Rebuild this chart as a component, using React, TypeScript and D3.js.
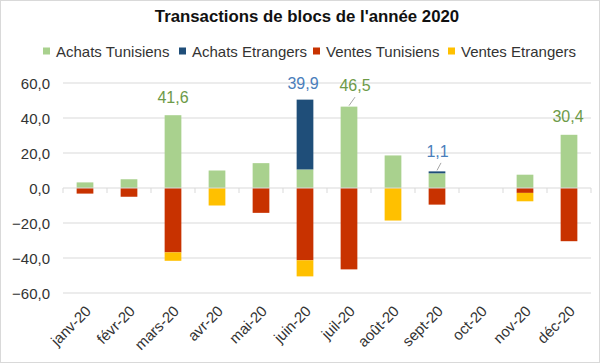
import { useEffect, useRef } from 'react'
import * as d3 from 'd3'

const months = ['janv-20', 'févr-20', 'mars-20', 'avr-20', 'mai-20', 'juin-20', 'juil-20', 'août-20', 'sept-20', 'oct-20', 'nov-20', 'déc-20']
const achatsTunisiens = [3.2, 5.0, 41.6, 10.0, 14.2, 10.6, 46.5, 18.6, 8.4, 0, 7.6, 30.4]
const achatsEtrangers = [0, 0, 0, 0, 0, 39.9, 0, 0, 1.1, 0, 0, 0]
const ventesTunisiens = [-3.2, -5.0, -36.8, 0, -14.2, -41.3, -46.5, 0, -9.5, 0, -2.8, -30.4]
const ventesEtrangers = [0, 0, -4.8, -10.0, 0, -9.2, 0, -18.6, 0, 0, -4.8, 0]
const yTicks = [-60, -40, -20, 0, 20, 40, 60]

const seriesNames = ['Achats Tunisiens', 'Achats Etrangers', 'Ventes Tunisiens', 'Ventes Etrangers']
const colors = ['#a9d18e', '#1f4e79', '#c83200', '#ffc000']

// étiquettes affichées : [série, mois, dx, dy, trait de rappel (décalage x de la fin) ou null]
const labels: Array<[number, number, number, number, number | null]> = [
  [0, 2, 0, -12, null],
  [1, 5, -2, -10.5, null],
  [0, 6, 6, -15.5, 6],
  [1, 8, 0.5, -14.5, 4],
  [0, 11, -1, -13, null],
]
const labelColors = ['#6d9a48', '#4a7ebb']

const W = 600
const H = 363
const font = 'Arial, "Liberation Sans", sans-serif'

export default function App() {
  const svgRef = useRef<SVGSVGElement | null>(null)

  useEffect(() => {
    if (!svgRef.current) return
    const svg = d3.select(svgRef.current)
    svg.selectAll('*').remove()

    const x = d3.scaleBand<string>().domain(months).range([63, 591]).paddingInner(0.62).paddingOuter(0.31)
    const y = d3.scaleLinear().domain([-60, 60]).range([293, 83])
    const step = x.step()

    svg.append('rect').attr('x', 0.5).attr('y', 0.5).attr('width', W - 1).attr('height', H - 1)
      .attr('fill', '#fff').attr('stroke', '#d9d9d9')

    svg.append('text').attr('x', 307).attr('y', 22).attr('text-anchor', 'middle')
      .attr('font-family', font).attr('font-size', 16.8).attr('font-weight', 'bold').attr('fill', '#111')
      .text("Transactions de blocs de l'année 2020")

    // légende
    const legendX = [43, 179, 313, 448]
    const lg = svg.append('g').attr('font-family', font).attr('font-size', 15).attr('fill', '#333')
    seriesNames.forEach((name, i) => {
      lg.append('rect').attr('x', legendX[i]).attr('y', 47.5).attr('width', 7).attr('height', 7).attr('fill', colors[i])
      lg.append('text').attr('x', legendX[i] + 13).attr('y', 57).text(name)
    })

    // grille
    svg.append('g').selectAll('line').data(yTicks.filter((t) => t !== 0)).join('line')
      .attr('x1', 63).attr('x2', 591).attr('y1', (d) => y(d)).attr('y2', (d) => y(d))
      .attr('stroke', '#d9d9d9').attr('stroke-width', 1)

    svg.append('g').selectAll('text').data(yTicks).join('text')
      .attr('x', 50).attr('y', (d) => y(d) + 5.5).attr('text-anchor', 'end')
      .attr('font-family', font).attr('font-size', 15).attr('fill', '#333')
      .text((d) => d3.format('.1f')(d).replace('.', ','))

    // barres empilées
    const pos = [achatsTunisiens, achatsEtrangers]
    const neg = [ventesTunisiens, ventesEtrangers]
    const bars = svg.append('g')
    months.forEach((m, i) => {
      let top = 0
      pos.forEach((s, k) => {
        if (s[i] <= 0) return
        bars.append('rect').attr('x', x(m)!).attr('width', x.bandwidth())
          .attr('y', y(top + s[i])).attr('height', y(top) - y(top + s[i])).attr('fill', colors[k])
        top += s[i]
      })
      let bot = 0
      neg.forEach((s, k) => {
        if (s[i] >= 0) return
        bars.append('rect').attr('x', x(m)!).attr('width', x.bandwidth())
          .attr('y', y(bot)).attr('height', y(bot + s[i]) - y(bot)).attr('fill', colors[k + 2])
        bot += s[i]
      })
    })

    // axe du zéro et graduations
    const ax = svg.append('g').attr('stroke', '#d9d9d9')
    ax.append('line').attr('x1', 63).attr('x2', 591).attr('y1', y(0)).attr('y2', y(0)).attr('stroke-width', 1.2)
    ax.selectAll('.tick').data(d3.range(months.length + 1)).join('line')
      .attr('x1', (d) => 63 + d * step).attr('x2', (d) => 63 + d * step)
      .attr('y1', y(0)).attr('y2', y(0) + 5)

    // étiquettes de mois
    svg.append('g').selectAll('text').data(months).join('text')
      .attr('transform', (d) => `translate(${x(d)! + x.bandwidth() / 2 + 7},${y(-60) + 19}) rotate(-45)`)
      .attr('text-anchor', 'end').attr('font-family', font).attr('font-size', 15).attr('fill', '#333')
      .text((d) => d)

    // étiquettes de valeurs
    labels.forEach(([s, i, dx, dy, leader]) => {
      const series = pos[s]
      const top = s === 0 ? series[i] : achatsTunisiens[i] + series[i]
      const cx = x(months[i])! + x.bandwidth() / 2
      const ty = y(top) + dy
      if (leader !== null) {
        svg.append('line').attr('x1', cx).attr('y1', y(top) - 1).attr('x2', cx + leader).attr('y2', ty + 6)
          .attr('stroke', '#a6a6a6').attr('stroke-width', 1)
      }
      svg.append('text').attr('x', cx + dx).attr('y', ty).attr('text-anchor', 'middle')
        .attr('font-family', font).attr('font-size', 16).attr('fill', labelColors[s])
        .text(d3.format('.1f')(series[i]).replace('.', ','))
    })
  }, [])

  return (
    <div style={{ position: 'fixed', left: 0, top: 0 }}>
      <svg ref={svgRef} width={W} height={H} style={{ display: 'block' }} />
    </div>
  )
}
